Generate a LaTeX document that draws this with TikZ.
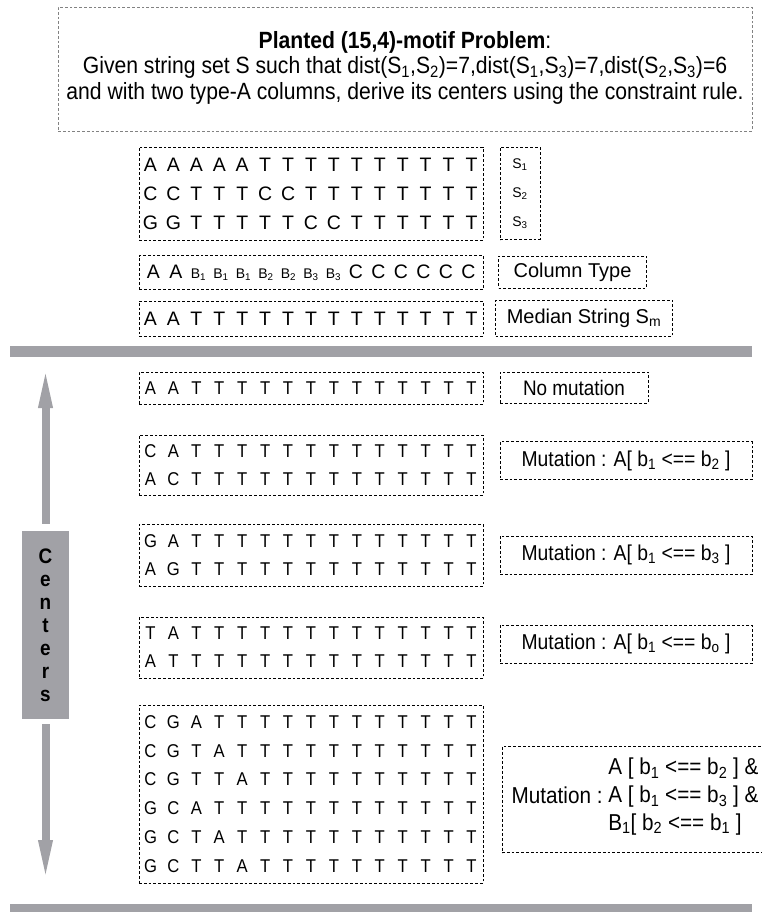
\documentclass[tikz,border=0pt]{standalone}
\usepackage{fontspec}
\setmainfont{Liberation Sans}
\newfontfamily\nf[FakeStretch=0.9]{Liberation Sans}
\usetikzlibrary{arrows.meta}
\definecolor{bargray}{RGB}{161,161,166}
\definecolor{dgray}{RGB}{130,130,130}
\newlength\pitch
\setlength\pitch{22.93pt}
\makeatletter
\def\seq#1{\seq@i#1\relax}
\def\seq@i#1{\ifx#1\relax\else\makebox[\pitch]{#1}\expandafter\seq@i\fi}
\makeatother
\newcommand\ca[1]{\makebox[22.5pt]{#1}}
\newcommand\cb[1]{\makebox[22.5pt]{\fontsize{14}{14}\selectfont B\textsubscript{#1}}}
\begin{document}
\begin{tikzpicture}[x=1pt,y=-1pt,
  dbox/.style={draw, dash pattern=on 2.8pt off 2pt, line width=0.9pt, inner sep=0pt},
  rowsA/.style={font=\fontsize{19.5}{29}\selectfont, align=left},
  rowsB/.style={font=\nf\fontsize{18.5}{28}\selectfont, align=left},
  lab/.style={font=\fontsize{20}{24}\selectfont},
  labm/.style={font=\nf\fontsize{21.5}{24}\selectfont},
  bigarrow/.style={draw=bargray, line width=8pt, -{Triangle[length=48pt,width=12pt]}}]
\useasboundingbox (0,0) rectangle (762,912);
% header
\node[dbox, draw=dgray, line width=0.7pt, minimum width=694pt, minimum height=124pt] (hdr) at (405,69) {};
\node[font=\nf\fontsize{23.5}{25.5}\selectfont, align=center] (hdrt) at (405,67.5)
 {\textbf{Planted (15,4)-motif Problem}:\\
  Given string set S such that dist(S\textsubscript{1},S\textsubscript{2})=7,dist(S\textsubscript{1},S\textsubscript{3})=7,dist(S\textsubscript{2},S\textsubscript{3})=6\\
  and with two type-A columns, derive its centers using the constraint rule.};
% input strings
\node[dbox, rowsA, minimum width=344pt, minimum height=93pt] (sset) at (311,193.5)
 {\seq{AAAAATTTTTTTTTT}\\\seq{CCTTTCCTTTTTTTT}\\\seq{GGTTTTTCCTTTTTT}};
\node[dbox, font=\fontsize{14}{29}\selectfont, align=center, minimum width=40pt, minimum height=92pt] (slab) at (520,193.5)
 {S\textsubscript{1}\\S\textsubscript{2}\\S\textsubscript{3}};
\node[dbox, font=\fontsize{19.5}{19.5}\selectfont, minimum width=344pt, minimum height=34pt] (ctype) at (311,272.5)
 {\ca{A}\ca{A}\cb{1}\cb{1}\cb{1}\cb{2}\cb{2}\cb{3}\cb{3}\ca{C}\ca{C}\ca{C}\ca{C}\ca{C}\ca{C}};
\node[dbox, lab, minimum width=148pt, minimum height=32pt] (ctlab) at (572.5,272) {Column Type};
\node[dbox, rowsA, minimum width=344pt, minimum height=35pt] (med) at (311,318.5) {\seq{AATTTTTTTTTTTTT}};
\node[dbox, lab, minimum width=177pt, minimum height=36pt] (medlab) at (584,318) {Median String S\textsubscript{m}};
% bars
\fill[bargray] (10,346) rectangle (752,356.5);
\fill[bargray] (10,904) rectangle (752,912);
% centers
\node[fill=bargray, minimum width=47pt, minimum height=188pt, inner sep=0pt,
      font=\nf\bfseries\fontsize{21}{23}\selectfont, align=center] (cent) at (45.5,625)
 {C\\e\\n\\t\\e\\r\\s};
\coordinate (uptip) at (45.5,360);
\coordinate (dntip) at (45.5,888);
\draw[bigarrow] ([yshift=7pt]cent.north) -- (uptip);
\draw[bigarrow] ([yshift=-5pt]cent.south) -- (dntip);
% no mutation
\node[dbox, rowsB, minimum width=344pt, minimum height=32pt] (nm) at (311,388) {\seq{AATTTTTTTTTTTTT}};
\node[dbox, font=\nf\fontsize{21}{22}\selectfont, minimum width=148pt, minimum height=31pt] (nmlab) at (574,387.5) {No mutation};
% pair 1
\node[dbox, rowsB, minimum width=344pt, minimum height=60pt] (p1) at (311,465)
 {\seq{CATTTTTTTTTTTTT}\\\seq{ACTTTTTTTTTTTTT}};
\node[dbox, labm, minimum width=252pt, minimum height=38pt] (p1lab) at (626,460.5)
 {Mutation : A[ b\textsubscript{1} <== b\textsubscript{2} ]};
% pair 2
\node[dbox, rowsB, minimum width=344pt, minimum height=62pt] (p2) at (311,555)
 {\seq{GATTTTTTTTTTTTT}\\\seq{AGTTTTTTTTTTTTT}};
\node[dbox, labm, minimum width=252pt, minimum height=38pt] (p2lab) at (626,555)
 {Mutation : A[ b\textsubscript{1} <== b\textsubscript{3} ]};
% pair 3
\node[dbox, rowsB, minimum width=344pt, minimum height=61pt] (p3) at (311,647.5)
 {\seq{TATTTTTTTTTTTTT}\\\seq{ATTTTTTTTTTTTTT}};
\node[dbox, labm, minimum width=252pt, minimum height=38pt] (p3lab) at (626,644)
 {Mutation : A[ b\textsubscript{1} <== b\textsubscript{o} ]};
% six
\node[dbox, rowsB, font=\nf\fontsize{18.5}{28.9}\selectfont, minimum width=344pt, minimum height=178pt] (p6) at (311,794)
 {\seq{CGATTTTTTTTTTTT}\\\seq{CGTATTTTTTTTTTT}\\\seq{CGTTATTTTTTTTTT}\\
  \seq{GCATTTTTTTTTTTT}\\\seq{GCTATTTTTTTTTTT}\\\seq{GCTTATTTTTTTTTT}};
\node[dbox, minimum width=290pt, minimum height=106pt] (p6lab) at (647,799.5) {};
\node[anchor=west, inner sep=0pt, font=\nf\fontsize{23}{27.7}\selectfont] (p6txt) at (511.5,797)
 {Mutation :~\begin{tabular}[c]{@{}l@{}}A [ b\textsubscript{1} <== b\textsubscript{2} ] \&\\
  A [ b\textsubscript{1} <== b\textsubscript{3} ] \&\\
  B\textsubscript{1}[ b\textsubscript{2} <== b\textsubscript{1} ]\end{tabular}};
\end{tikzpicture}
\end{document}
